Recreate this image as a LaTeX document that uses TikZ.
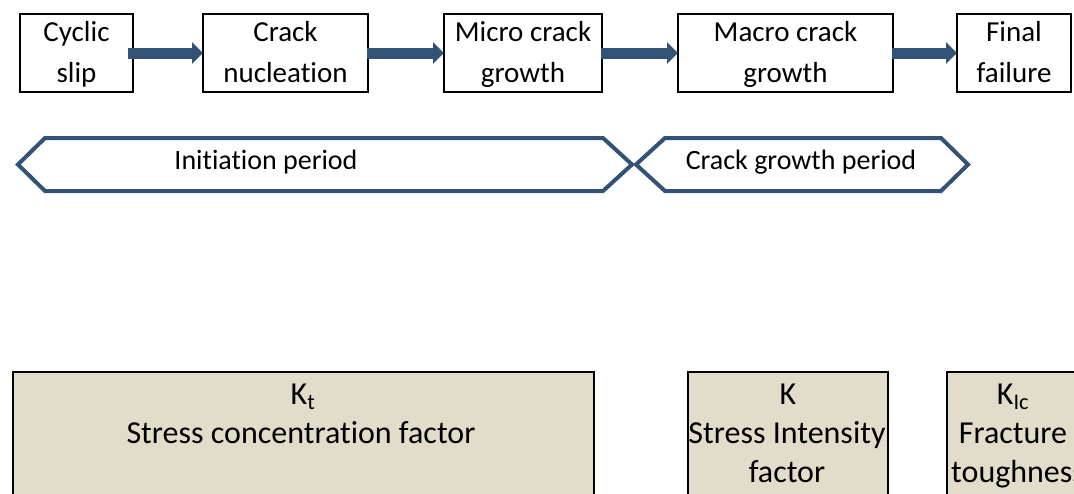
\documentclass[tikz,border=0pt]{standalone}
\usepackage{fontspec}
\setmainfont{Carlito}[RawFeature={-liga;-clig;-dlig;-calt}]
\usetikzlibrary{arrows.meta}
\definecolor{arrblue}{RGB}{50,82,118}
\definecolor{tanfill}{RGB}{226,221,203}
\newcommand\sst{\rule[-9pt]{0pt}{35pt}}
\newcommand\tiv{t\kern0pt i}
\tikzset{
  stage/.style={draw=black, line width=2.5pt, fill=white, minimum height=78pt,
    inner sep=0pt, outer sep=0pt, align=center, font=\fontsize{29}{41}\selectfont},
  flow/.style={draw=arrblue, line width=11pt, -{Triangle[width=21pt,length=11pt,fill=arrblue]}},
  period/.style={draw=arrblue, line width=4pt, fill=white, line join=miter},
  periodtext/.style={anchor=base, inner sep=0pt, font=\fontsize{28}{34}\selectfont},
  factorbox/.style={draw=black, line width=2.5pt, fill=tanfill, anchor=north west,
    inner sep=0pt, outer sep=0pt, minimum height=150pt},
  factortext/.style={anchor=base, inner sep=0pt, font=\fontsize{32}{39}\selectfont},
}
\begin{document}
\begin{tikzpicture}[x=1pt,y=-1pt]
\useasboundingbox (0,0) rectangle (1074,493);
\clip (0,0) rectangle (1074,493);
\fill[white] (0,0) rectangle (1074,493);
% top row
\node[stage, minimum width=113pt] (b1) at (76.5,53) {\sst Cyclic\\\sst slip};
\node[stage, minimum width=165pt] (b2) at (285.5,53) {\sst Crack\\\sst nucleation};
\node[stage, minimum width=158pt] (b3) at (523,53) {\sst Micro crack\\\sst growth};
\node[stage, minimum width=215pt] (b4) at (785.5,53) {\sst Macro crack\\\sst growth};
\node[stage, minimum width=114pt] (b5) at (1014,53) {\sst Final\\\sst failure};
\draw[flow] ([xshift=-5pt]b1.east) -- (b2.west);
\draw[flow] ([xshift=-1pt]b2.east) -- (b3.west);
\draw[flow] ([xshift=-1pt]b3.east) -- (b4.west);
\draw[flow] ([xshift=-1pt]b4.east) -- (b5.west);
% periods
\draw[period] (18,164.5) -- (45,138) -- (603,138) -- (632,164.5) -- (603,191) -- (45,191) -- cycle;
\draw[period] (636,164.5) -- (665,138) -- (941,138) -- (968,164.5) -- (941,191) -- (665,191) -- cycle;
\node[periodtext] (init) at (266,169) {Ini\tiv a\tiv on period};
\node[periodtext] (growth) at (801,169) {Crack growth period};
% factor boxes
\node[factorbox, minimum width=581pt] (kt) at (13,372) {};
\node[factorbox, minimum width=200pt] (k) at (688,372) {};
\node[factorbox, minimum width=135pt] (kic) at (947,372) {};
\node[factortext] (kt1) at (303,404) {K\textsubscript{t}};
\node[factortext] (kt2) at (301,443) {Stress concentra\tiv on factor};
\node[factortext] (k1) at (788,404) {K};
\node[factortext] (k2) at (787,443) {Stress Intensity};
\node[factortext] (k3) at (787,482) {factor};
\node[factortext] (kic1) at (1013,404) {K\textsubscript{Ic}};
\node[factortext] (kic2) at (1013,443) {Fracture};
\node[factortext, anchor=base west] (kic3) at (951,482) {toughness};
\end{tikzpicture}
\end{document}
